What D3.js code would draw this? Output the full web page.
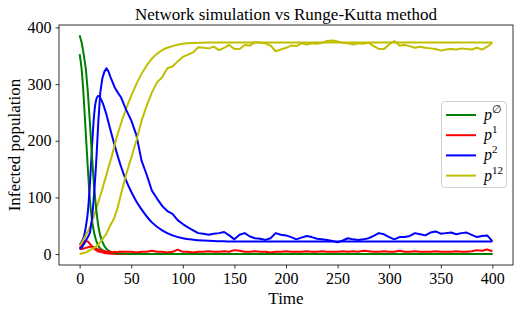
<!DOCTYPE html>
<html><head><meta charset="utf-8">
<script src="https://cdn.jsdelivr.net/npm/d3@7"></script>
<style>body{margin:0;background:#fff}svg{display:block}text{font-family:"Liberation Serif","DejaVu Serif",serif;fill:#000}</style>
</head><body><svg id="c" width="521" height="315"></svg>
<script>
// ---- data ----
const tRK = [0,2,4,6,8,10,12,14,16,18,20,22,24,26,28,30,35,40,45,50,55,60,70,80,90,100,110,120,130,140,150,175,200,250,300,350,400];
const greenRK = [353,325,275,212,150,95,60,38,24,15,10,7,5,3.5,2.5,1.8,0.8,0.4,0.2,0.1,0.1,0.1,0,0,0,0,0,0,0,0,0,0,0,0,0,0,0];
const redRK = [10,16,21,23,22,18,14,10,7,5,4,3,2,1.5,1,0.8,0.5,0.3,0.2,0.1,0.1,0.1,0,0,0,0,0,0,0,0,0,0,0,0,0,0,0];
const blueRK = [16,22,30,48,75,125,190,245,272,279,276,268,258,246,232,218,185,155,130,110,93,79,56,42,33,28,25.5,24,23,22.5,22.2,22,22,22,22,22,22];
const yellowRK = [15,20,26,33,40,48,58,68,79,91,103,115,128,140,153,165,200,230,256,279,300,318,345,360,367,371,372.5,373,373.5,373.5,373.5,373.5,373.5,373.5,373.5,373.5,373.5];

const tSim = [0,2,4,6,8,10,12,14,16,18,20,22,24,26,28,30,32,34,36,38,40,
  45,50,55,60,65,70,75,80,85,90,95,100,105,110,115,120,125,130,135,140,145,150,155,160,165,170,175,180,185,190,195,200,
  205,210,215,220,225,230,235,240,245,250,255,260,265,270,275,280,285,290,295,300,305,310,315,320,325,330,335,340,345,350,
  355,360,365,370,375,380,385,390,395,400];
const greenSim = [386,373,352,327,285,230,172,118,80,50,32,22,14,9,6,4,3,2,1.5,1,1,
  0.5,0,0,0,0,0,0,0,0,0,0,0,0,0,0,0,0,0,0,0,0,0,0,0,0,0,0,0,0,0,0,0,
  0,0,0,0,0,0,0,0,0,0,0,0,0,0,0,0,0,0,0,0,0,0,0,0,0,0,0,0,0,0,
  0,0,0,0,0,0,0,0,0,0];
const redSim = [9,9,10,11,12,13,13,12,10,8,7,6,5,4,4,4,3,4,3,4,4,
  4,4,3,4,4,6,4,4,3,4,8,4,4,3,4,4,5,4,4,5,4,7,6,4,4,5,4,4,3,4,4,5,
  4,4,4,5,4,4,5,4,4,4,5,4,5,4,6,5,4,4,5,4,4,6,4,4,5,4,4,4,5,4,
  4,4,5,4,4,5,7,6,8,5];
const blueSim = [9,12,17,24,30,38,62,105,160,230,285,310,322,328,322,312,303,294,288,282,277,
  255,236,210,165,140,112,98,85,76,71,60,53,47,42,37,36,34,36,37,39,33,26,34,37,31,28,27,25,28,37,34,33,
  30,26,29,32,30,27,26,25,23,21,24,28,26,25,26,28,32,37,35,30,26,30,30,32,37,35,33,38,40,36,
  37,38,35,37,38,34,30,32,33,23];
const yellowSim = [0,1,2,3,5,7,9,11,13,17,21,26,31,36,44,52,58,66,77,90,105,
  140,170,200,235,262,285,303,312,328,331,340,348,352,356,365,364,363,366,360,364,369,362,362,369,368,374,373,372,368,358,361,364,
  368,367,372,370,372,371,373,376,377,375,373,372,370,372,371,373,367,362,362,370,376,368,369,367,364,366,364,363,362,359,
  361,362,361,363,362,361,364,361,366,373];

const xTicks = [0,50,100,150,200,250,300,350,400];
const yTicks = [0,100,200,300,400];
const titleText = "Network simulation vs Runge-Kutta method";
const xLabel = "Time";
const yLabel = "Infected population";
const legendLabels = [["p","∅"],["p","1"],["p","2"],["p","12"]];
const colors = ["#008000","#ff0000","#0000ff","#bfbf00"];

// ---- drawing ----
const svg = d3.select("#c");
const L=59,R=513,T=25,B=265;
const x = d3.scaleLinear().domain([-20,420]).range([L,R]);
const y = d3.scaleLinear().domain([-19.25,404.25]).range([B,T]);

const plot = svg.append("g");
const lineRK = d3.line().x((d,i)=>x(tRK[i])).y(d=>y(d)).curve(d3.curveMonotoneX);
const lineSim = d3.line().x((d,i)=>x(tSim[i])).y(d=>y(d));
[greenRK,redRK,blueRK,yellowRK].forEach((s,k)=>{
  plot.append("path").attr("d",lineRK(s)).attr("fill","none").attr("stroke",colors[k]).attr("stroke-width",2).attr("stroke-linejoin","round");
});
[greenSim,redSim,blueSim,yellowSim].forEach((s,k)=>{
  plot.append("path").attr("d",lineSim(s)).attr("fill","none").attr("stroke",colors[k]).attr("stroke-width",2).attr("stroke-linejoin","round");
});

// axes
const gx = svg.append("g").attr("transform",`translate(0,${B})`)
  .call(d3.axisBottom(x).tickValues(xTicks).tickSize(3.5).tickPadding(4));
const gy = svg.append("g").attr("transform",`translate(${L},0)`)
  .call(d3.axisLeft(y).tickValues(yTicks).tickSize(3.5).tickPadding(4));
[gx,gy].forEach(g=>{
  g.select(".domain").remove();
  g.selectAll(".tick line").attr("stroke","#000").attr("stroke-width",0.8);
  g.selectAll(".tick text").attr("font-size",16).attr("font-family","Liberation Serif, serif").attr("fill","#000");
});
// frame
svg.append("rect").attr("x",L).attr("y",T).attr("width",R-L).attr("height",B-T)
  .attr("fill","none").attr("stroke","#000").attr("stroke-width",0.8);

svg.append("text").attr("x",(L+R)/2).attr("y",20).attr("text-anchor","middle").attr("font-size",17).text(titleText);
svg.append("text").attr("x",(L+R)/2).attr("y",304).attr("text-anchor","middle").attr("font-size",17).text(xLabel);
svg.append("text").attr("transform",`translate(20,${(T+B)/2}) rotate(-90)`).attr("text-anchor","middle").attr("font-size",17).text(yLabel);

// legend
const lg = svg.append("g");
lg.append("rect").attr("x",441.5).attr("y",101.5).attr("width",65).attr("height",86).attr("rx",3)
  .attr("fill","#fff").attr("fill-opacity",0.8).attr("stroke","#d0d0d0").attr("stroke-width",1);
const rowsY = [115,135.2,155.4,175.6];
legendLabels.forEach((lab,i)=>{
  lg.append("line").attr("x1",446).attr("x2",476).attr("y1",rowsY[i]).attr("y2",rowsY[i])
    .attr("stroke",colors[i]).attr("stroke-width",2);
  const t = lg.append("text").attr("x",484).attr("y",rowsY[i]+5).attr("font-size",16);
  t.append("tspan").attr("font-style","italic").text(lab[0]);
  t.append("tspan").attr("font-size",11).attr("dy",-7).text(lab[1]);
});
</script></body></html>
